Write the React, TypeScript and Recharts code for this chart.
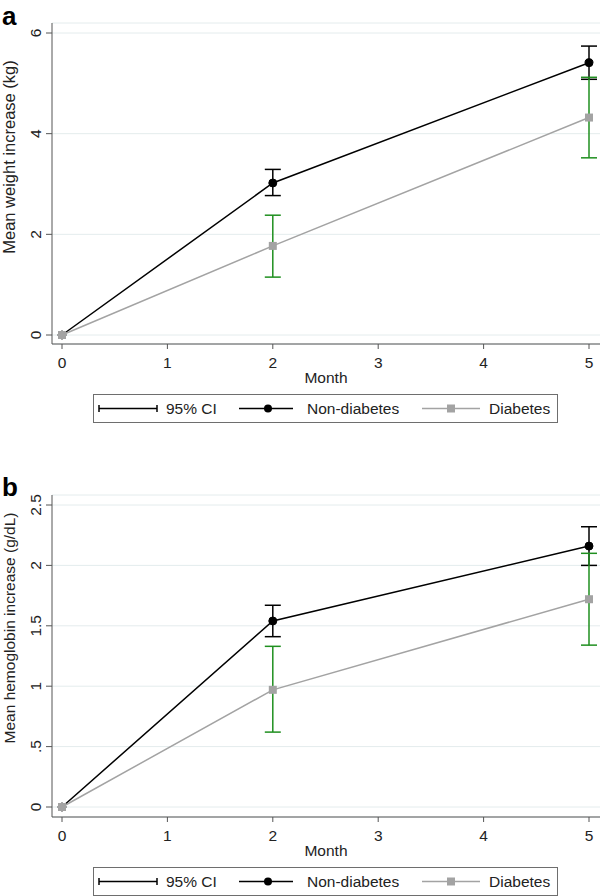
import React from "react";
import { LineChart, Line, XAxis, YAxis, CartesianGrid, ErrorBar, Legend } from "recharts";

// months measured
const months = [0, 2, 5];
const monthTicks = [0, 1, 2, 3, 4, 5];

// panel a: mean weight increase (kg) with 95% CI
const weightNonDiabetes = [0, 3.02, 5.41];
const weightNonDiabetesLow = [0, 2.77, 5.08];
const weightNonDiabetesHigh = [0, 3.29, 5.74];
const weightDiabetes = [0, 1.77, 4.32];
const weightDiabetesLow = [0, 1.15, 3.52];
const weightDiabetesHigh = [0, 2.38, 5.12];
const weightTicks = [0, 2, 4, 6];
const weightTickLabels = ["0", "2", "4", "6"];

// panel b: mean hemoglobin increase (g/dL) with 95% CI
const hbNonDiabetes = [0, 1.54, 2.16];
const hbNonDiabetesLow = [0, 1.41, 2.0];
const hbNonDiabetesHigh = [0, 1.67, 2.32];
const hbDiabetes = [0, 0.97, 1.72];
const hbDiabetesLow = [0, 0.62, 1.34];
const hbDiabetesHigh = [0, 1.33, 2.1];
const hbTicks = [0, 0.5, 1, 1.5, 2, 2.5];
const hbTickLabels = ["0", ".5", "1", "1.5", "2", "2.5"];

const legendLabels = ["95% CI", "Non-diabetes", "Diabetes"];

const FONT = "'Liberation Sans', Arial, Helvetica, sans-serif";
const FS = 15.5;
const AXIS = "#555";
const GRID = "#e4eced";
const BLACK = "#000";
const GRAY = "#a3a3a3";
const GREEN = "#1f8f1f";

const ci = (v: number, lo: number, hi: number) => (hi - lo > 0 ? [v - lo, hi - v] : null);

const makeRows = (nd, ndLo, ndHi, d, dLo, dHi) =>
  months.map((m, i) => ({
    month: m,
    nonDiabetes: nd[i],
    diabetes: d[i],
    nonDiabetesCI: ci(nd[i], ndLo[i], ndHi[i]),
    diabetesCI: ci(d[i], dLo[i], dHi[i]),
  }));

const weightRows = makeRows(
  weightNonDiabetes, weightNonDiabetesLow, weightNonDiabetesHigh,
  weightDiabetes, weightDiabetesLow, weightDiabetesHigh
);
const hbRows = makeRows(
  hbNonDiabetes, hbNonDiabetesLow, hbNonDiabetesHigh,
  hbDiabetes, hbDiabetesLow, hbDiabetesHigh
);

const RotatedTick = (props: any) => {
  const { x, y, payload, ticks, labels } = props;
  const i = ticks.indexOf(payload.value);
  return (
    <text
      x={x}
      y={y}
      transform={`rotate(-90 ${x} ${y})`}
      textAnchor="middle"
      fontSize={FS}
      fontFamily={FONT}
      fill="#222"
    >
      {i >= 0 ? labels[i] : payload.value}
    </text>
  );
};

const YTitle = (props: any) => {
  const { cx, cy, text, size } = props;
  return (
    <text
      x={cx}
      y={cy}
      transform={`rotate(-90 ${cx} ${cy})`}
      textAnchor="middle"
      fontSize={size}
      fontFamily={FONT}
      fill="#222"
    >
      {text}
    </text>
  );
};

const SquareDot = (props: any) => {
  const { cx, cy, index } = props;
  if (cx == null || cy == null) return null;
  return <rect key={`sq-${index}`} x={cx - 4} y={cy - 4} width={8} height={8} fill={GRAY} />;
};

const LegendBox = () => (
  <svg width={465} height={29} style={{ display: "block" }}>
    <rect x={0.5} y={0.5} width={464} height={28} fill="#fff" stroke="#6e6e6e" />
    {/* 95% CI */}
    <line x1={6} y1={14.5} x2={64} y2={14.5} stroke={BLACK} strokeWidth={1.5} />
    <line x1={6} y1={11} x2={6} y2={18} stroke={BLACK} strokeWidth={1.5} />
    <line x1={64} y1={11} x2={64} y2={18} stroke={BLACK} strokeWidth={1.5} />
    <text x={73} y={20} fontSize={FS} fontFamily={FONT} fill="#222">{legendLabels[0]}</text>
    {/* Non-diabetes */}
    <line x1={146} y1={14.5} x2={200} y2={14.5} stroke={BLACK} strokeWidth={1.5} />
    <circle cx={175} cy={14.5} r={4} fill={BLACK} />
    <text x={214} y={20} fontSize={FS} fontFamily={FONT} fill="#222">{legendLabels[1]}</text>
    {/* Diabetes */}
    <line x1={329} y1={14.5} x2={387} y2={14.5} stroke={GRAY} strokeWidth={1.5} />
    <rect x={354} y={10.5} width={8} height={8} fill={GRAY} />
    <text x={396} y={20} fontSize={FS} fontFamily={FONT} fill="#222">{legendLabels[2]}</text>
  </svg>
);

function Panel({ rows, height, top, xAxisHeight, yDomain, yTicks, yLabels, yPad, title, titleY, titleSize, monthOffset, legendTop }) {
  return (
    <LineChart
      width={600}
      height={height}
      data={rows}
      margin={{ top, right: 0, bottom: 0, left: 0 }}
    >
      <CartesianGrid vertical={false} stroke={GRID} strokeWidth={1} />
      <XAxis
        dataKey="month"
        type="number"
        domain={[0, 5]}
        ticks={monthTicks}
        interval={0}
        padding={{ left: 10, right: 11 }}
        height={xAxisHeight}
        stroke={AXIS}
        tickSize={5}
        tickMargin={8}
        tick={{ fill: "#222", fontSize: FS, fontFamily: FONT }}
        label={{ value: "Month", position: "insideBottom", offset: monthOffset, fill: "#222", fontSize: FS, fontFamily: FONT }}
      />
      <YAxis
        type="number"
        domain={yDomain}
        ticks={yTicks}
        interval={0}
        width={52}
        padding={yPad}
        stroke={AXIS}
        tickSize={6}
        tickMargin={5}
        tick={<RotatedTick ticks={yTicks} labels={yLabels} />}
        label={<YTitle cx={15} cy={titleY} text={title} size={titleSize} />}
      />
      <Legend
        verticalAlign="middle"
        align="center"
        layout="horizontal"
        content={<LegendBox />}
        wrapperStyle={{ left: 93, top: legendTop, width: 465, height: 29 }}
      />
      <Line
        dataKey="nonDiabetes"
        type="linear"
        stroke={BLACK}
        strokeWidth={1.5}
        dot={{ r: 4, fill: BLACK, stroke: BLACK, strokeWidth: 1 }}
        activeDot={false}
        isAnimationActive={false}
      >
        <ErrorBar dataKey="nonDiabetesCI" direction="y" width={8} stroke={BLACK} strokeWidth={1.5} isAnimationActive={false} />
      </Line>
      <Line
        dataKey="diabetes"
        type="linear"
        stroke={GRAY}
        strokeWidth={1.5}
        dot={SquareDot}
        activeDot={false}
        isAnimationActive={false}
      >
        <ErrorBar dataKey="diabetesCI" direction="y" width={8} stroke={GREEN} strokeWidth={1.5} isAnimationActive={false} />
      </Line>
    </LineChart>
  );
}

const Letter = ({ children, top }) => (
  <div
    style={{
      position: "absolute",
      left: 2,
      top,
      fontFamily: FONT,
      fontWeight: "bold",
      fontSize: 26,
      lineHeight: 1,
      color: "#000",
    }}
  >
    {children}
  </div>
);

export default function App() {
  return (
    <div style={{ position: "absolute", left: 0, top: 0, width: 600, height: 896, background: "#fff", overflow: "hidden" }}>
      <div style={{ position: "absolute", left: 0, top: 0 }}>
        <Panel
          rows={weightRows}
          height={440}
          top={23}
          xAxisHeight={96}
          yDomain={[0, 6]}
          yTicks={weightTicks}
          yLabels={weightTickLabels}
          yPad={{ top: 10, bottom: 9 }}
          title="Mean weight increase (kg)"
          titleY={157}
          titleSize={16.5}
          monthOffset={57}
          legendTop={394}
        />
      </div>
      <div style={{ position: "absolute", left: 0, top: 440 }}>
        <Panel
          rows={hbRows}
          height={456}
          top={55}
          xAxisHeight={79}
          yDomain={[0, 2.5]}
          yTicks={hbTicks}
          yLabels={hbTickLabels}
          yPad={{ top: 10, bottom: 10 }}
          title="Mean hemoglobin increase (g/dL)"
          titleY={188}
          titleSize={15.5}
          monthOffset={40}
          legendTop={427}
        />
      </div>
      <Letter top={3}>a</Letter>
      <Letter top={474}>b</Letter>
    </div>
  );
}
